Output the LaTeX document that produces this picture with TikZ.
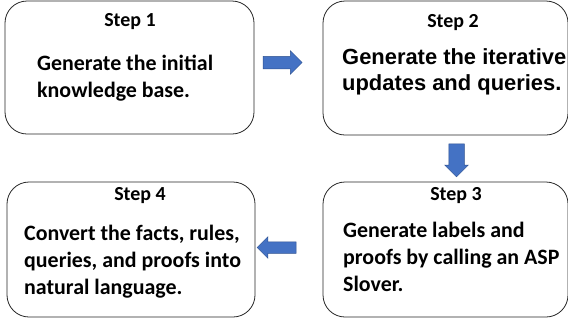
\documentclass[tikz,border=0pt]{standalone}
\usepackage{fontspec}
\setmainfont{Carlito}
\newfontfamily\arialfont{Liberation Sans}
\usetikzlibrary{shapes.arrows}
\definecolor{officeblue}{HTML}{4472C4}
\definecolor{officeedge}{HTML}{2F528F}

\begin{document}
\begin{tikzpicture}[x=1bp, y=-1bp]
        \tikzstyle{every node}=[inner sep=0pt]
        \tikzstyle{stepbox}=[draw=black!85, line width=0.8bp, rounded corners=22bp]
        \tikzstyle{steplabel}=[font=\bfseries\fontsize{20}{22}\selectfont, anchor=base]
        \tikzstyle{steptext}=[font=\bfseries\fontsize{22}{27}\selectfont, align=left, anchor=base west]
        \tikzstyle{blockarrow}=[single arrow, single arrow head extend=5.5bp, inner xsep=0pt, inner ysep=6bp, fill=officeblue, draw=officeedge, line width=0.5bp, minimum height=39bp]

        \useasboundingbox (0,0) rectangle (568,322);

        % Boxes
        \node[stepbox, minimum width=249bp, minimum height=133bp] (box1) at (129.5,67.5) {};
        \node[stepbox, minimum width=245bp, minimum height=134bp] (box2) at (445.5,68) {};
        \node[stepbox, minimum width=245bp, minimum height=135bp] (box3) at (445.5,249.5) {};
        \node[stepbox, minimum width=248bp, minimum height=135bp] (box4) at (131,249.5) {};

        % Step 1 (base = last line)
        \node[steplabel] (lab1) at (130,26) {Step 1};
        \node[steptext] (txt1) at (37,97) {Generate the initial\\knowledge base.};

        % Step 2
        \node[steplabel] (lab2) at (453,27) {Step 2};
        \node[steptext, font=\arialfont\bfseries\fontsize{22}{26}\selectfont] (txt2) at (342,90) {Generate the iterative\\updates and queries.};

        % Step 3
        \node[steplabel] (lab3) at (456,200) {Step 3};
        \node[steptext] (txt3) at (343,291) {Generate labels and\\proofs by calling an ASP\\Slover.};

        % Step 4
        \node[steplabel] (lab4) at (140,200) {Step 4};
        \node[steptext] (txt4) at (24,294) {Convert the facts, rules,\\queries, and proofs into\\natural language.};

        % Arrows
        \node[blockarrow] (arr12) at (279.5,62.5) {};
        \node[blockarrow, minimum height=33bp, inner ysep=7.5bp, single arrow head extend=4bp, rotate=-90] (arr23) at (456.5,156.5) {};
        \node[blockarrow, inner ysep=5.5bp, single arrow head extend=5bp, rotate=180] (arr34) at (279.5,247.5) {};
\end{tikzpicture}
\end{document}
